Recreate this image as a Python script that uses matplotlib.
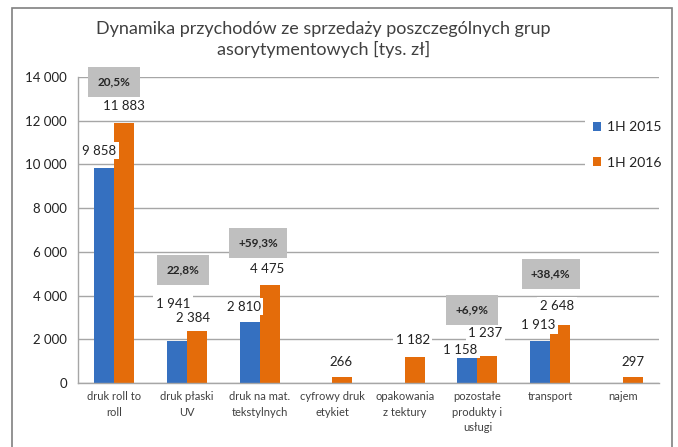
import numpy as np
import matplotlib
matplotlib.use("Agg")
import matplotlib.pyplot as plt
from matplotlib.patches import Rectangle

plt.rcParams['font.family'] = ['Lato', 'DejaVu Sans']

# Data
categories = ["druk roll to\nroll", "druk płaski\nUV", "druk na mat.\ntekstylnych",
              "cyfrowy druk\netykiet", "opakowania\nz tektury",
              "pozostałe\nprodukty i\nusługi", "transport", "najem"]
values_2015 = [9858, 1941, 2810, 0, 0, 1158, 1913, 0]
values_2016 = [11883, 2384, 4475, 266, 1182, 1237, 2648, 297]
series_names = ["1H 2015", "1H 2016"]
growth_labels = ["20,5%", "22,8%", "+59,3%", "+6,9%", "+38,4%"]
growth_idx = [0, 1, 2, 5, 6]
yticks = [0, 2000, 4000, 6000, 8000, 10000, 12000, 14000]

# Layout (positions for annotation boxes, in data units / pixel offsets)
growth_pos = [(0.0, 13770), (-0.05, 5170), (-0.02, 6400), (-0.07, 3340), (0.01, 4990)]
off_2015 = [(-5, 17), (-4, 37), (-6, 15), None, None, (-7, 8), (-2, 16), None]
off_2016 = [(0, 17), (-4, 13), (-2, 16), (-1, 15), (-2, 17), (-2, 23), (-3, 19), (0, 15)]

c_blue = "#3570C0"
c_orange = "#E46C0A"
grid_c = "#A6A6A6"
text_c = "#404040"

fig = plt.figure(figsize=(6.78, 4.47), dpi=100)
ax = fig.add_axes([78 / 678, 1 - 383 / 447, 581 / 678, 306 / 447])

x = np.arange(len(categories))
w = 0.275
b1 = ax.bar(x - w / 2, values_2015, w, color=c_blue, label=series_names[0], zorder=2)
b2 = ax.bar(x + w / 2, values_2016, w, color=c_orange, label=series_names[1], zorder=2)

ax.set_xlim(-0.5, len(categories) - 0.5)
ax.set_ylim(0, 14000)
ax.set_yticks(yticks)
ax.set_yticklabels([f"{v:,}".replace(",", " ") for v in yticks], fontsize=9.5, color="#222222")
ax.set_xticks(x)
ax.set_xticklabels(categories, fontsize=8, color=text_c, linespacing=1.5)
ax.tick_params(length=0, pad=8)
ax.tick_params(axis='x', pad=6)
ax.grid(axis='y', color=grid_c, linewidth=1, zorder=0)
for s in ["top", "right"]:
    ax.spines[s].set_visible(False)
for s in ["left", "bottom"]:
    ax.spines[s].set_color(grid_c)
    ax.spines[s].set_linewidth(1)

label_box = dict(boxstyle="square,pad=0.2", facecolor="white", edgecolor="none")


def fmt(v):
    return f"{v:,}".replace(",", " ")


for i in range(len(categories)):
    if off_2015[i] is not None:
        ax.annotate(fmt(values_2015[i]), (x[i] - w / 2, values_2015[i]),
                    xytext=off_2015[i], textcoords="offset pixels",
                    ha="center", va="center", fontsize=9.5, color="#222222",
                    bbox=label_box, zorder=5)
    if off_2016[i] is not None:
        ax.annotate(fmt(values_2016[i]), (x[i] + w / 2, values_2016[i]),
                    xytext=off_2016[i], textcoords="offset pixels",
                    ha="center", va="center", fontsize=9.5, color="#222222",
                    bbox=label_box, zorder=5)

# growth boxes
for lab, idx, (dx, yy) in zip(growth_labels, growth_idx, growth_pos):
    ax.text(x[idx] + dx, yy, lab, ha="center", va="center", fontsize=8.5,
            fontweight="bold", color="#262626", zorder=6,
            bbox=dict(boxstyle="square,pad=0.8", facecolor="#BFBFBF", edgecolor="none"))

leg = fig.legend(handles=[b1, b2], loc="center", bbox_to_anchor=(0.925, 0.676),
                 frameon=True, fontsize=10, handlelength=0.6, handleheight=0.6,
                 handletextpad=0.4, labelspacing=1.7, borderpad=0.6)
leg.get_frame().set_facecolor("white")
leg.get_frame().set_edgecolor("none")
leg.get_frame().set_alpha(1)
for t in leg.get_texts():
    t.set_color("#222222")

fig.text(0.477, 0.912, "Dynamika przychodów ze sprzedaży poszczególnych grup\nasorytymentowych [tys. zł]",
         ha="center", va="center", fontsize=13, color=text_c, linespacing=1.25)

# outer chart border
fig.patches.append(Rectangle((12 / 678, -0.05), 660 / 678, 1.05 - 8 / 447,
                             transform=fig.transFigure, fill=False,
                             edgecolor="#808080", linewidth=1.2))

fig.savefig("out.png", dpi=100)
